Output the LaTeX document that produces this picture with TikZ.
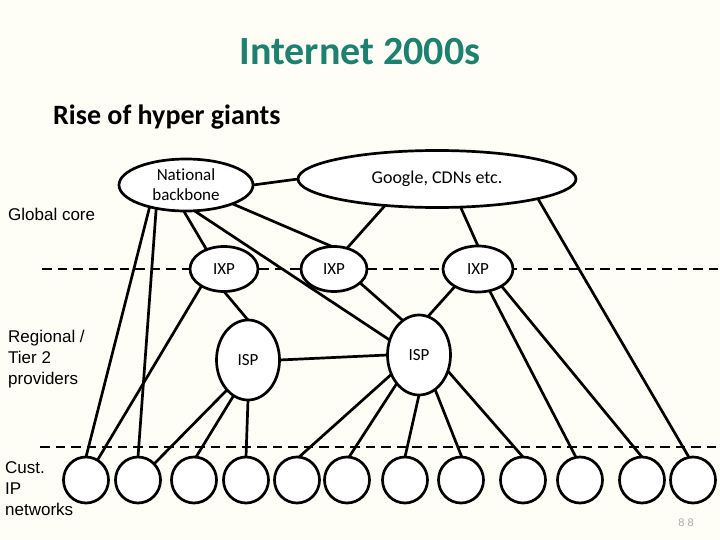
\documentclass[tikz,border=0pt]{standalone}
\usepackage{fontspec}
\usetikzlibrary{shapes.geometric}
\newfontfamily\calfont[Ligatures=NoCommon]{Carlito}
\newfontfamily\arialfont{Liberation Sans}
\definecolor{bgcream}{RGB}{254,254,246}
\definecolor{titleteal}{RGB}{30,128,110}
\definecolor{pagegray}{RGB}{170,170,170}
\tikzset{
  oval/.style={ellipse, draw=black, fill=white, line width=2.7pt, inner sep=0pt, outer sep=0pt},
  cust/.style={oval, minimum width=45pt, minimum height=46pt},
  conn/.style={line width=2.7pt, black},
  layerline/.style={line width=2.7pt, black, dash pattern=on 9.5pt off 6pt},
  sidelabel/.style={anchor=base west, inner sep=0pt, align=left, font=\arialfont\fontsize{17}{21}\selectfont},
  nodetext/.style={font=\calfont\fontsize{17}{20}\selectfont, align=center},
  smalltext/.style={font=\calfont\fontsize{17}{18}\selectfont}
}
\begin{document}
\begin{tikzpicture}[x=1pt,y=-1pt]
\useasboundingbox (0,0) rectangle (720,540);
\fill[bgcream] (0,0) rectangle (720,540);

% titles
\node[text=titleteal, font=\calfont\bfseries\fontsize{40}{44}\selectfont, anchor=base] (title) at (360,65) {Internet 2000s};
\node[font=\calfont\bfseries\fontsize{28}{32}\selectfont, anchor=base west, inner sep=0pt] (subtitle) at (53,125) {Rise of hyper giants};

% side labels (anchored at the baseline of their last line)
\node[sidelabel] (lglobal) at (8,221) {Global core};
\node[sidelabel] (lregional) at (8,384) {Regional /\\Tier 2\\providers};
\node[sidelabel] (lcust) at (5,515) {Cust.\\IP\\networks};

% layer separators
\coordinate (u0) at (42,269);
\coordinate (u1) at (720,269);
\coordinate (l0) at (40,447);
\coordinate (l1) at (720,447);
\draw[layerline] (u0) -- (u1);
\draw[layerline] (l0) -- (l1);

% core
\node[oval, nodetext, minimum width=134pt, minimum height=52pt] (nb) at (186,185) {National\\backbone};
\node[oval, font=\calfont\fontsize{18}{20}\selectfont, minimum width=278pt, minimum height=57pt] (gg) at (437,179) {Google, CDNs etc.};

% IXPs
\node[oval, smalltext, minimum width=68pt, minimum height=45pt] (ixp1) at (224,269) {IXP};
\node[oval, smalltext, minimum width=66pt, minimum height=45pt] (ixp2) at (334,269) {IXP};
\node[oval, smalltext, minimum width=70pt, minimum height=46pt] (ixp3) at (478,269) {IXP};

% ISPs
\node[oval, smalltext, minimum width=63pt, minimum height=80pt] (isp1) at (248,360) {ISP};
\node[oval, smalltext, minimum width=63pt, minimum height=80pt] (isp2) at (419,355) {ISP};

% customer networks
\foreach \i/\x in {1/86,2/138,3/194,4/246,5/297,6/347,7/405,8/461,9/523,10/580,11/642,12/693}
  \node[cust] (c\i) at (\x,480) {};

% connectors
\draw[conn] (nb.east) -- (gg.west);
\draw[conn] (nb.211) -- (c1.north);
\draw[conn] (nb.218) -- (c2.north);
\draw[conn] (nb.265) -- (ixp1.132);
\draw[conn] (nb.288) -- (isp2.153);
\draw[conn] (nb.338) -- (ixp2.95);
\draw[conn] (gg.207) -- (ixp2.58);
\draw[conn] (gg.310) -- (ixp3.north);
\draw[conn] (gg.349) -- (c12.100);
\draw[conn] (ixp1.217) -- (c1.60);
\draw[conn] (ixp1.south) -- (isp1.north);
\draw[conn] (ixp2.332) -- (isp2.115);
\draw[conn] (ixp3.217) -- (isp2.77);
\draw[conn] (ixp3.298) -- (c10.100);
\draw[conn] (ixp3.324) -- (c11.north);
\draw[conn] (isp1.east) -- (isp2.west);
\draw[conn] (isp1.235) -- (c2.45);
\draw[conn] (isp1.248) -- (c3.85);
\draw[conn] (isp1.south) -- (c4.north);
\draw[conn] (isp2.215) -- (c5.85);
\draw[conn] (isp2.232) -- (c6.85);
\draw[conn] (isp2.south) -- (c7.north);
\draw[conn] (isp2.295) -- (c8.88);
\draw[conn] (isp2.331) -- (c9.north);

% page number
\node[text=pagegray, font=\arialfont\fontsize{11}{12}\selectfont] (pagenum) at (686,523) {8 8};
\end{tikzpicture}
\end{document}
